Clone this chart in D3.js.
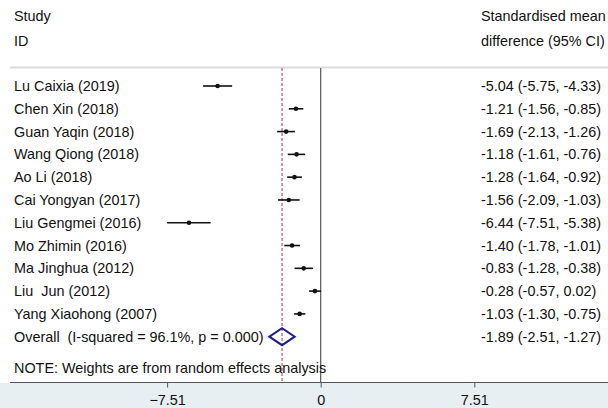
<!DOCTYPE html>
<html>
<head>
<meta charset="utf-8">
<script src="https://cdn.jsdelivr.net/npm/d3@7"></script>
<style>
  body { margin: 0; background: #fff; }
  svg text { font-family: "Liberation Sans", Arial, sans-serif; font-size: 14.4px; fill: #111; white-space: pre; }
</style>
</head>
<body>
<svg class="chart" width="608" height="408"></svg>
<script>
var studies = ["Lu Caixia (2019)", "Chen Xin (2018)", "Guan Yaqin (2018)", "Wang Qiong (2018)",
               "Ao Li (2018)", "Cai Yongyan (2017)", "Liu Gengmei (2016)", "Mo Zhimin (2016)",
               "Ma Jinghua (2012)", "Liu  Jun (2012)", "Yang Xiaohong (2007)"];
var es   = [-5.04, -1.21, -1.69, -1.18, -1.28, -1.56, -6.44, -1.40, -0.83, -0.28, -1.03];
var lo   = [-5.75, -1.56, -2.13, -1.61, -1.64, -2.09, -7.51, -1.78, -1.28, -0.57, -1.30];
var hi   = [-4.33, -0.85, -1.26, -0.76, -0.92, -1.03, -5.38, -1.01, -0.38,  0.02, -0.75];
var ciText = ["-5.04 (-5.75, -4.33)", "-1.21 (-1.56, -0.85)", "-1.69 (-2.13, -1.26)", "-1.18 (-1.61, -0.76)",
              "-1.28 (-1.64, -0.92)", "-1.56 (-2.09, -1.03)", "-6.44 (-7.51, -5.38)", "-1.40 (-1.78, -1.01)",
              "-0.83 (-1.28, -0.38)", "-0.28 (-0.57, 0.02)", "-1.03 (-1.30, -0.75)"];
var overallLabel = "Overall  (I-squared = 96.1%, p = 0.000)";
var overall = [-1.89, -2.51, -1.27];
var overallText = "-1.89 (-2.51, -1.27)";
var tickVals = [-7.51, 0, 7.51];

var svg = d3.select(".chart");

var rows = studies.concat([overallLabel]);
var x = d3.scaleLinear().domain([-7.51, 7.51]).range([167.1, 474.3]);
var y = d3.scalePoint().domain(rows).range([86, 336.7]);

// bottom band
svg.append("rect").attr("x", 0).attr("y", 383).attr("width", 608).attr("height", 25).attr("fill", "#e8eff2");

// headers
svg.append("text").attr("x", 14).attr("y", 21).text("Study");
svg.append("text").attr("x", 14).attr("y", 46).text("ID");
svg.append("text").attr("x", 481).attr("y", 21).text("Standardised mean");
svg.append("text").attr("x", 481).attr("y", 46).text("difference (95% CI)");

// separator
svg.append("line").attr("x1", 10).attr("x2", 608).attr("y1", 67.5).attr("y2", 67.5)
   .attr("stroke", "#dcdcdc").attr("stroke-width", 2);

// null line
svg.append("line").attr("x1", x(0)).attr("x2", x(0)).attr("y1", 68).attr("y2", 383)
   .attr("stroke", "#555").attr("stroke-width", 1.2);

// overall effect dashed line
svg.append("line").attr("x1", x(overall[0])).attr("x2", x(overall[0])).attr("y1", 68).attr("y2", 383)
   .attr("stroke", "#a8344f").attr("stroke-width", 1).attr("stroke-dasharray", "3,2");

// study labels
svg.selectAll("text.study").data(rows).enter().append("text")
   .attr("class", "study")
   .attr("x", 14)
   .attr("y", function(d){ return y(d) + 5; })
   .text(function(d){ return d; });

// ci labels
svg.selectAll("text.ci").data(ciText.concat([overallText])).enter().append("text")
   .attr("class", "ci")
   .attr("x", 481)
   .attr("y", function(d, i){ return y(rows[i]) + 5; })
   .text(function(d){ return d; });

// CI lines
svg.selectAll("line.ci").data(studies).enter().append("line")
   .attr("x1", function(d, i){ return x(lo[i]); })
   .attr("x2", function(d, i){ return x(hi[i]); })
   .attr("y1", function(d){ return y(d); })
   .attr("y2", function(d){ return y(d); })
   .attr("stroke", "#111").attr("stroke-width", 1.6);

svg.selectAll("circle").data(studies).enter().append("circle")
   .attr("cx", function(d, i){ return x(es[i]); })
   .attr("cy", function(d){ return y(d); })
   .attr("r", 2.3)
   .attr("fill", "#111");

// overall diamond
var yo = y(overallLabel);
svg.append("polygon")
   .attr("points", [[x(overall[1]), yo], [x(overall[0]), yo - 8.5], [x(overall[2]), yo], [x(overall[0]), yo + 8.5]].join(" "))
   .attr("fill", "none").attr("stroke", "#1f1f8a").attr("stroke-width", 2);

// note
svg.append("text").attr("x", 14).attr("y", 373).text("NOTE: Weights are from random effects analysis");

// axis
svg.append("line").attr("x1", 10).attr("x2", 608).attr("y1", 382.5).attr("y2", 382.5)
   .attr("stroke", "#555").attr("stroke-width", 1);

var axis = svg.append("g").attr("transform", "translate(0,382.5)")
   .call(d3.axisBottom(x).tickValues(tickVals).tickSize(5).tickPadding(7)
     .tickFormat(function(d){ return d === 0 ? "0" : d3.format(".2f")(d); }));
axis.select(".domain").remove();
axis.selectAll("line").attr("stroke", "#555");
axis.selectAll("text").attr("font-size", 14.4).attr("font-family", "Liberation Sans, Arial, sans-serif").attr("fill", "#111");
</script>
</body>
</html>
